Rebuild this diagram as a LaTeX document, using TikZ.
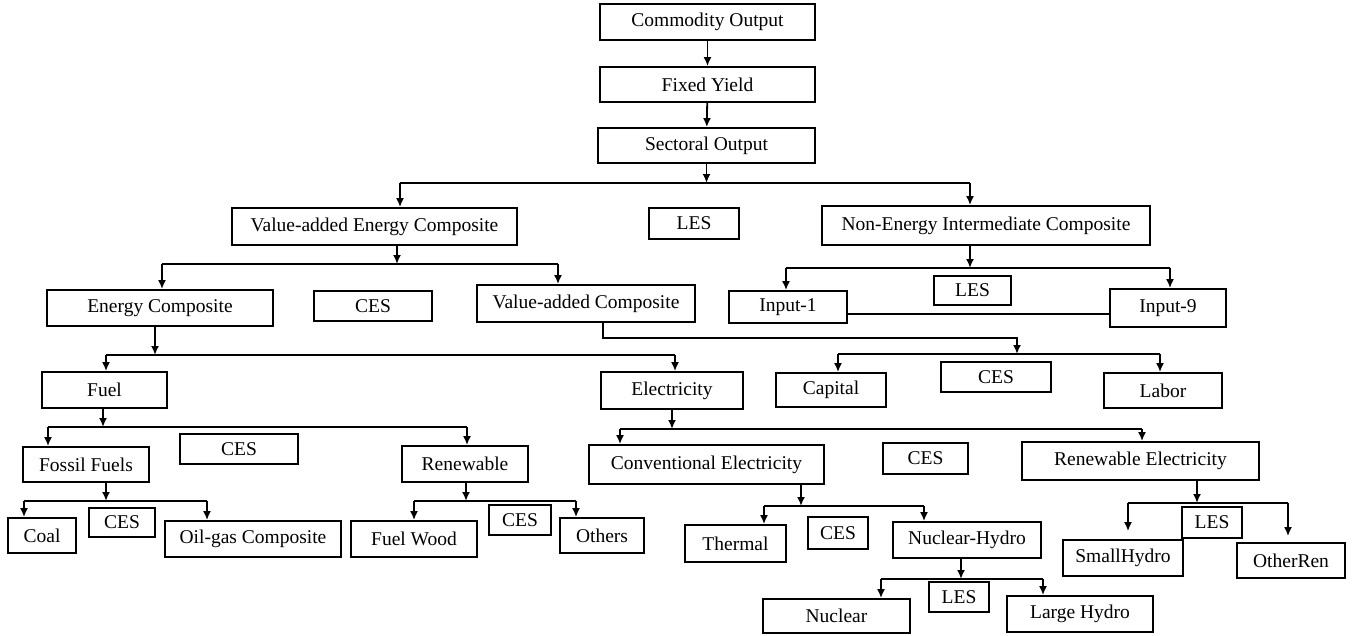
\documentclass[tikz,border=0pt]{standalone}
\usepackage{fontspec}
\setmainfont{Liberation Serif}
\usetikzlibrary{arrows.meta,calc}
\newcommand\bnode[6]{\node[bx,minimum width=#4pt,minimum height=#5pt] (#1) at (#2,#3) {#6};}
\begin{document}
\begin{tikzpicture}[x=1pt,y=-1pt,
  bx/.style={draw, line width=1.8pt, inner sep=0pt, font=\fontsize{19.5}{22}\selectfont},
  ln/.style={line width=1.8pt},
  arr/.style={line width=1.8pt, -{Latex[length=9pt,width=8pt]}}]
\useasboundingbox (0,0) rectangle (1352,635);
\fill[white] (0,0) rectangle (1352,635);
% boxes
\bnode{co}{707.5}{22}{215}{36}{Commodity Output}
\bnode{fy}{707.5}{84.5}{215}{35}{Fixed Yield}
\bnode{so}{706.5}{145.5}{217}{35}{Sectoral Output}
\bnode{vaec}{374.5}{226.5}{285}{37}{Value-added Energy Composite}
\bnode{les1}{694}{223.5}{90}{31}{LES}
\bnode{neic}{986}{225.5}{328}{39}{Non-Energy Intermediate Composite}
\bnode{ec}{160}{308}{226}{36}{Energy Composite}
\bnode{ces1}{373}{306}{118}{30}{CES}
\bnode{vac}{586}{303.5}{218}{37}{Value-added Composite}
\bnode{in1}{788}{307}{118}{32}{Input-1}
\bnode{les2}{972.5}{290.5}{77}{29}{LES}
\bnode{in9}{1168}{308}{116}{38}{Input-9}
\bnode{cap}{831}{390}{110}{34}{Capital}
\bnode{ces2}{996}{377}{110}{30}{CES}
\bnode{lab}{1163}{390.5}{118}{35}{Labor}
\bnode{fuel}{104.5}{390}{125}{36}{Fuel}
\bnode{elec}{672}{390.5}{142}{37}{Electricity}
\bnode{ff}{86}{464.5}{126}{35}{Fossil Fuels}
\bnode{ces3}{239}{449}{118}{30}{CES}
\bnode{ren}{465}{464}{126}{36}{Renewable}
\bnode{ce}{706.5}{464.5}{235}{39}{Conventional Electricity}
\bnode{ces4}{925.5}{458.5}{85}{31}{CES}
\bnode{re}{1140.5}{461}{237}{38}{Renewable Electricity}
\bnode{coal}{42}{535.5}{68}{35}{Coal}
\bnode{ces5}{122}{522.5}{66}{29}{CES}
\bnode{og}{253}{539}{176}{36}{Oil-gas Composite}
\bnode{fw}{414}{539}{126}{36}{Fuel Wood}
\bnode{ces6}{520}{520}{62}{30}{CES}
\bnode{oth}{602}{535.5}{84}{35}{Others}
\bnode{th}{735.5}{543.5}{101}{37}{Thermal}
\bnode{ces7}{838}{533}{60}{32}{CES}
\bnode{nh}{967}{540}{148}{36}{Nuclear-Hydro}
\bnode{nuc}{836.5}{616}{147}{34}{Nuclear}
\bnode{les4}{959}{597}{60}{30}{LES}
\bnode{lh}{1080}{614}{146}{36}{Large Hydro}
\bnode{sh}{1123}{558}{120}{36}{SmallHydro}
\bnode{les3}{1212}{522.5}{60}{31}{LES}
\bnode{oren}{1291}{560.5}{108}{35}{OtherRen}
% junction coordinates
\coordinate (j1) at (706.5,183); \coordinate (j1l) at (400,183); \coordinate (j1r) at (970,183);
\coordinate (j2) at (397,264); \coordinate (j2l) at (162,264); \coordinate (j2r) at (558,264);
\coordinate (j3) at (970,268); \coordinate (j3l) at (786,268); \coordinate (j3r) at (1170,268);
\coordinate (v1) at (603,338); \coordinate (v2) at (1017,338);
\coordinate (j4) at (1017,354); \coordinate (j4l) at (838,354); \coordinate (j4r) at (1160,354);
\coordinate (j5) at (155,355); \coordinate (j5l) at (106,355); \coordinate (j5r) at (675,355);
\coordinate (j6) at (103,427); \coordinate (j6l) at (48,427); \coordinate (j6r) at (467,427);
\coordinate (j7) at (672,429); \coordinate (j7l) at (620,429); \coordinate (j7r) at (1142,429);
\coordinate (j8) at (106,501); \coordinate (j8l) at (24,501); \coordinate (j8r) at (207,501);
\coordinate (j9) at (466,501); \coordinate (j9l) at (414,501); \coordinate (j9r) at (576,501);
\coordinate (j10) at (801,506); \coordinate (j10l) at (764,506); \coordinate (j10r) at (924,506);
\coordinate (j11) at (961,579); \coordinate (j11l) at (881,579); \coordinate (j11r) at (1043,579);
\coordinate (j12) at (1197,503); \coordinate (j12l) at (1128,503); \coordinate (j12r) at (1288,503);
\coordinate (lk) at (0,314);
% connectors
\draw[arr] (co) -- (fy);
\draw[arr] (fy) -- (so);
\draw[arr] (so.south) -- (j1);
\draw[ln] (j1l) -- (j1r);
\draw[arr] (j1l) -- (j1l |- vaec.north);
\draw[arr] (j1r) -- (j1r |- neic.north);
\draw[arr] (j2 |- vaec.south) -- (j2);
\draw[ln] (j2l) -- (j2r);
\draw[arr] (j2l) -- (j2l |- ec.north);
\draw[arr] (j2r) -- (j2r |- vac.north);
\draw[arr] (j3 |- neic.south) -- (j3);
\draw[ln] (j3l) -- (j3r);
\draw[arr] (j3l) -- (j3l |- in1.north);
\draw[arr] (j3r) -- (j3r |- in9.north);
\draw[ln] (in1.east |- lk) -- (in9.west |- lk);
\draw[arr] (v1 |- vac.south) -- (v1) -- (v2) -- (j4);
\draw[ln] (j4l) -- (j4r);
\draw[arr] (j4l) -- (j4l |- cap.north);
\draw[arr] (j4r) -- (j4r |- lab.north);
\draw[arr] (j5 |- ec.south) -- (j5);
\draw[ln] (j5l) -- (j5r);
\draw[arr] (j5l) -- (j5l |- fuel.north);
\draw[arr] (j5r) -- (j5r |- elec.north);
\draw[arr] (j6 |- fuel.south) -- (j6);
\draw[ln] (j6l) -- (j6r);
\draw[arr] (j6l) -- (j6l |- ff.north);
\draw[arr] (j6r) -- (j6r |- ren.north);
\draw[arr] (j7 |- elec.south) -- (j7);
\draw[ln] (j7l) -- (j7r);
\draw[arr] (j7l) -- (j7l |- ce.north);
\draw[arr] (j7r) -- (j7r |- re.north);
\draw[arr] (j8 |- ff.south) -- (j8);
\draw[ln] (j8l) -- (j8r);
\draw[arr] (j8l) -- (j8l |- coal.north);
\draw[arr] (j8r) -- (j8r |- og.north);
\draw[arr] (j9 |- ren.south) -- (j9);
\draw[ln] (j9l) -- (j9r);
\draw[arr] (j9l) -- (j9l |- fw.north);
\draw[arr] (j9r) -- (j9r |- oth.north);
\draw[arr] (j10 |- ce.south) -- (j10);
\draw[ln] (j10l) -- (j10r);
\draw[arr] (j10l) -- (j10l |- th.north);
\draw[arr] (j10r) -- (j10r |- nh.north);
\draw[arr] (j11 |- nh.south) -- (j11);
\draw[ln] (j11l) -- (j11r);
\draw[arr] (j11l) -- (j11l |- nuc.north);
\draw[arr] (j11r) -- (j11r |- lh.north);
\draw[arr] (j12 |- re.south) -- (j12);
\draw[ln] (j12l) -- (j12r);
\draw[arr, shorten >=8pt] (j12l) -- (j12l |- sh.north);
\draw[arr, shorten >=6pt] (j12r) -- (j12r |- oren.north);
\end{tikzpicture}
\end{document}
